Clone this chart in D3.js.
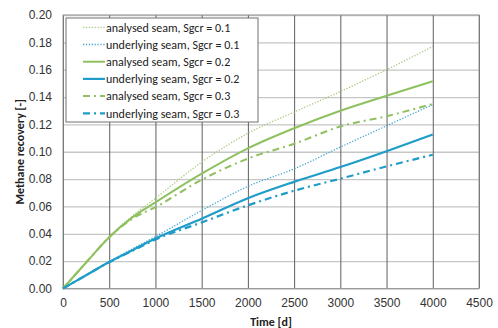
<!DOCTYPE html>
<html>
<head>
<meta charset="utf-8">
<script src="https://cdn.jsdelivr.net/npm/d3@7"></script>
<style>
  html, body { margin: 0; padding: 0; background: #ffffff; }
  svg { display: block; font-family: Calibri, Carlito, "Liberation Sans", Arial, sans-serif; }
</style>
</head>
<body>
<svg id="chart" width="498" height="328"></svg>
<script>
// Simulation output: methane recovery over time for each seam and critical gas saturation
const days = [0, 250, 500, 750, 1000, 1500, 2000, 2500, 3000, 3500, 4000];

const analysedSgcr01   = [0, 0.019, 0.038, 0.053, 0.066, 0.0924, 0.1135, 0.129, 0.144, 0.160, 0.177];
const underlyingSgcr01 = [0, 0.0098, 0.0196, 0.029, 0.038, 0.057, 0.0747, 0.0875, 0.1034, 0.119, 0.1345];
const analysedSgcr02   = [0, 0.019, 0.0375, 0.052, 0.063, 0.084, 0.1025, 0.1172, 0.130, 0.141, 0.1516];
const underlyingSgcr02 = [0, 0.0097, 0.0194, 0.028, 0.0365, 0.051, 0.066, 0.078, 0.0888, 0.1004, 0.1126];
const analysedSgcr03   = [0, 0.019, 0.0375, 0.051, 0.0595, 0.0795, 0.095, 0.1058, 0.1185, 0.126, 0.135];
const underlyingSgcr03 = [0, 0.0097, 0.0192, 0.0275, 0.0358, 0.0483, 0.0608, 0.0715, 0.0803, 0.0893, 0.0978];

const seriesNames = [
  "analysed seam, Sgcr = 0.1",
  "underlying seam, Sgcr = 0.1",
  "analysed seam, Sgcr = 0.2",
  "underlying seam, Sgcr = 0.2",
  "analysed seam, Sgcr = 0.3",
  "underlying seam, Sgcr = 0.3"
];
const seriesValues = [analysedSgcr01, underlyingSgcr01, analysedSgcr02, underlyingSgcr02, analysedSgcr03, underlyingSgcr03];

const xTicks = [0, 500, 1000, 1500, 2000, 2500, 3000, 3500, 4000, 4500];
const yTicks = [0, 0.02, 0.04, 0.06, 0.08, 0.10, 0.12, 0.14, 0.16, 0.18, 0.20];
const xTitle = "Time [d]";
const yTitle = "Methane recovery [-]";

// Line styling per series
const green = "#8fc160", blue = "#1f9cc8";
const styles = [
  { color: "#a9cc80", width: 1.3, dash: "1.3,1.6" },
  { color: "#4aa9d3", width: 1.3, dash: "1.3,1.6" },
  { color: green, width: 2, dash: null },
  { color: blue, width: 2.2, dash: null },
  { color: green, width: 2, dash: "7,4,2,4" },
  { color: blue, width: 2.2, dash: "7,4,2,4" }
];

const svg = d3.select("#chart");
const plot = { left: 63, right: 479, top: 15, bottom: 288.5 };

const x = d3.scaleLinear().domain([0, 4500]).range([plot.left, plot.right]);
const y = d3.scaleLinear().domain([0, 0.2]).range([plot.bottom, plot.top]);

// Horizontal gridlines
svg.append("g")
  .attr("transform", `translate(${plot.left},0)`)
  .call(d3.axisLeft(y).tickValues(yTicks).tickSize(-(plot.right - plot.left)).tickFormat(""))
  .call(g => g.select(".domain").remove())
  .call(g => g.selectAll("line").attr("stroke", "#c6c6c6").attr("stroke-width", 1.3));

// Vertical gridlines
svg.append("g")
  .attr("transform", `translate(0,${plot.bottom})`)
  .call(d3.axisBottom(x).tickValues(xTicks).tickSize(-(plot.bottom - plot.top)).tickFormat(""))
  .call(g => g.select(".domain").remove())
  .call(g => g.selectAll("line").attr("stroke", "#5e5e5e").attr("stroke-width", 1));

// Plot frame
svg.append("rect")
  .attr("x", plot.left).attr("y", plot.top)
  .attr("width", plot.right - plot.left).attr("height", plot.bottom - plot.top)
  .attr("fill", "none").attr("stroke", "#9a9a9a").attr("stroke-width", 1);

// Tick labels
svg.append("g")
  .attr("transform", `translate(${plot.left},0)`)
  .call(d3.axisLeft(y).tickValues(yTicks).tickSize(0).tickPadding(11).tickFormat(d3.format(".2f")))
  .call(g => g.select(".domain").remove())
  .call(g => g.selectAll("text").attr("font-size", 12).attr("fill", "#333").attr("font-family", null));

svg.append("g")
  .attr("transform", `translate(0,${plot.bottom})`)
  .call(d3.axisBottom(x).tickValues(xTicks).tickSize(0).tickPadding(10).tickFormat(d3.format("d")))
  .call(g => g.select(".domain").remove())
  .call(g => g.selectAll("text").attr("font-size", 12).attr("fill", "#333").attr("font-family", null));

// Axis titles
svg.append("text")
  .attr("x", 271)
  .attr("y", 326)
  .attr("text-anchor", "middle")
  .attr("font-size", 12).attr("font-weight", "bold").attr("fill", "#222")
  .text(xTitle);

svg.append("text")
  .attr("transform", `translate(24,${(plot.top + plot.bottom) / 2}) rotate(-90)`)
  .attr("text-anchor", "middle")
  .attr("font-size", 12).attr("font-weight", "bold").attr("fill", "#222")
  .text(yTitle);

// Series lines
const line = d3.line()
  .x((d, i) => x(days[i]))
  .y(d => y(d))
  .curve(d3.curveMonotoneX);

svg.append("g").selectAll("path")
  .data(seriesValues)
  .join("path")
  .attr("d", d => line(d))
  .attr("fill", "none")
  .attr("stroke", (d, i) => styles[i].color)
  .attr("stroke-width", (d, i) => styles[i].width)
  .attr("stroke-dasharray", (d, i) => styles[i].dash);

// Legend
const legend = svg.append("g").attr("transform", "translate(66,18)");
legend.append("rect")
  .attr("width", 192).attr("height", 104)
  .attr("fill", "#fff").attr("stroke", "#707070").attr("stroke-width", 1);

const rowH = 17.2;
const rows = legend.selectAll("g.row")
  .data(seriesNames)
  .join("g")
  .attr("class", "row")
  .attr("transform", (d, i) => `translate(0,${9.3 + i * rowH})`);

rows.append("line")
  .attr("x1", 17).attr("x2", 39).attr("y1", 0).attr("y2", 0)
  .attr("stroke", (d, i) => styles[i].color)
  .attr("stroke-width", (d, i) => styles[i].width)
  .attr("stroke-dasharray", (d, i) => styles[i].dash);

rows.append("text")
  .attr("x", 40).attr("y", 0).attr("dy", "0.35em")
  .attr("font-size", 12).attr("fill", "#222")
  .text(d => d);
</script>
</body>
</html>
